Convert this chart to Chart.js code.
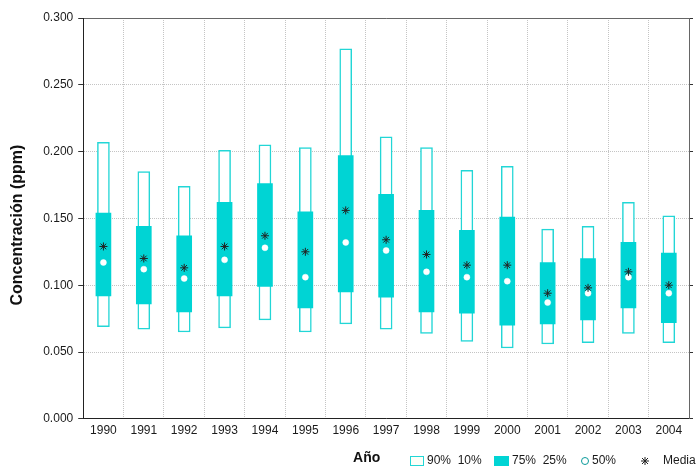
<!DOCTYPE html>
<html>
<head>
<meta charset="utf-8">
<script src="https://cdn.jsdelivr.net/npm/chart.js@4/dist/chart.umd.min.js"></script>
<style>
  html, body { margin: 0; padding: 0; background: #ffffff; }
  #wrap { width: 699px; height: 467px; position: relative; }
</style>
</head>
<body>
<div id="wrap"><canvas id="c" width="699" height="467"></canvas></div>
<script>
// ---- data ----
const years  = ['1990','1991','1992','1993','1994','1995','1996','1997','1998','1999','2000','2001','2002','2003','2004'];
const p90    = [0.207,0.185,0.174,0.201,0.205,0.203,0.277,0.211,0.203,0.186,0.189,0.142,0.144,0.162,0.152];
const p10    = [0.069,0.067,0.065,0.068,0.074,0.065,0.071,0.067,0.064,0.058,0.053,0.056,0.057,0.064,0.057];
const p75    = [0.154,0.144,0.137,0.162,0.176,0.155,0.197,0.168,0.156,0.141,0.151,0.117,0.120,0.132,0.124];
const p25    = [0.092,0.086,0.080,0.092,0.099,0.083,0.095,0.091,0.080,0.079,0.070,0.071,0.074,0.083,0.072];
const median = [0.117,0.112,0.105,0.119,0.128,0.106,0.132,0.126,0.110,0.106,0.103,0.087,0.094,0.106,0.094];
const mean   = [0.129,0.120,0.113,0.129,0.137,0.125,0.156,0.134,0.123,0.115,0.115,0.094,0.098,0.110,0.100];
const yTicks = { min: 0, max: 0.3, step: 0.05 };
const legendLabels = ['90%  10%', '75%  25%', '50%', 'Media'];

const CYAN = '#00d4d4';
const CYAN_LINE = '#22d6d6';
const FONT = '"Liberation Sans", Arial, sans-serif';

Chart.defaults.font.family = FONT;
Chart.defaults.font.size = 12;
Chart.defaults.color = '#1a1a1a';

const legendPlugin = {
  id: 'boxLegend',
  afterDraw(chart) {
    const ctx = chart.ctx;
    const r = chart.chartArea.right;
    const cy = 461;
    ctx.save();
    ctx.font = '12px ' + FONT;
    ctx.fillStyle = '#1a1a1a';
    ctx.textBaseline = 'middle';
    ctx.textAlign = 'left';
    // 90% 10% : open box
    let x = r - 279;
    ctx.fillStyle = '#fbfff8';
    ctx.fillRect(x, cy - 5, 14, 10);
    ctx.strokeStyle = CYAN_LINE; ctx.lineWidth = 1;
    ctx.strokeRect(x + 0.5, cy - 4.5, 13, 9);
    ctx.fillStyle = '#1a1a1a';
    ctx.fillText(legendLabels[0], x + 17, cy);
    // 75% 25% : filled box
    x = r - 195;
    ctx.fillStyle = CYAN;
    ctx.fillRect(x, cy - 5, 15, 10);
    ctx.fillStyle = '#1a1a1a';
    ctx.fillText(legendLabels[1], x + 18, cy);
    // 50% : circle
    x = r - 104;
    ctx.beginPath();
    ctx.arc(x, cy, 3.5, 0, Math.PI * 2);
    ctx.strokeStyle = '#0a9a9a'; ctx.lineWidth = 1;
    ctx.stroke();
    ctx.fillText(legendLabels[2], x + 7, cy);
    // Media : asterisk
    x = r - 44;
    ctx.strokeStyle = '#222'; ctx.lineWidth = 1;
    ctx.beginPath();
    ctx.moveTo(x - 4, cy); ctx.lineTo(x + 4, cy);
    ctx.moveTo(x, cy - 4); ctx.lineTo(x, cy + 4);
    ctx.moveTo(x - 3, cy - 3); ctx.lineTo(x + 3, cy + 3);
    ctx.moveTo(x - 3, cy + 3); ctx.lineTo(x + 3, cy - 3);
    ctx.stroke();
    ctx.fillText(legendLabels[3], x + 18, cy);
    ctx.restore();
  }
};

new Chart(document.getElementById('c'), {
  type: 'bar',
  data: {
    labels: years,
    datasets: [
      {
        label: 'Media', type: 'line', data: mean, showLine: false,
        pointStyle: 'star', pointRadius: 4, pointBorderColor: '#222', pointBorderWidth: 1,
        pointBackgroundColor: '#222', order: 1
      },
      {
        label: '50%', type: 'line', data: median, showLine: false,
        pointStyle: 'circle', pointRadius: 3, pointBorderColor: '#ffffff', pointBorderWidth: 0.5,
        pointBackgroundColor: '#ffffff', order: 2
      },
      {
        label: '75% 25%', data: years.map((_, i) => [p25[i], p75[i]]),
        backgroundColor: CYAN, borderColor: CYAN, borderWidth: 0,
        barThickness: 15, grouped: false, order: 3
      },
      {
        label: '90% 10%', data: years.map((_, i) => [p10[i], p90[i]]),
        backgroundColor: '#ffffff', borderColor: CYAN_LINE, borderWidth: 1.5,
        borderSkipped: false, barThickness: 12, grouped: false, order: 4
      }
    ]
  },
  options: {
    responsive: false,
    animation: false,
    devicePixelRatio: 1,
    layout: { padding: { left: 8, right: 6, top: 18, bottom: 0 } },
    plugins: { legend: { display: false }, tooltip: { enabled: false } },
    scales: {
      x: {
        type: 'category',
        offset: true,
        grid: { offset: true, color: '#c4c4c4', drawTicks: false },
        border: { color: '#222', width: 1, dash: [1, 1] },
        ticks: { padding: 5, color: '#1a1a1a', font: { size: 12 } },
        title: {
          display: true, text: 'Año          ',
          font: { size: 14, weight: 'bold' }, color: '#111',
          padding: { top: 7, bottom: 0 }
        }
      },
      x2: {
        type: 'category', position: 'top', offset: true,
        grid: { display: false, drawTicks: false },
        ticks: { display: false },
        border: { color: '#666', width: 1 }
      },
      y: {
        min: yTicks.min, max: yTicks.max,
        grid: { color: '#c4c4c4', tickColor: '#333', tickLength: 5, tickBorderDash: [] },
        border: { color: '#222', width: 1, dash: [1, 1] },
        ticks: {
          stepSize: yTicks.step, padding: 5, color: '#1a1a1a', font: { size: 12 },
          callback: v => Number(v).toFixed(3)
        },
        title: {
          display: true, text: 'Concentración (ppm)   ',
          font: { size: 16, weight: 'bold' }, color: '#111',
          padding: { top: 0, bottom: 11 }
        }
      },
      y2: {
        position: 'right', min: yTicks.min, max: yTicks.max,
        grid: { drawOnChartArea: false, tickColor: '#333', tickLength: 4, tickBorderDash: [] },
        border: { color: '#666', width: 1 },
        ticks: { display: false, stepSize: yTicks.step }
      }
    }
  },
  plugins: [legendPlugin]
});
</script>
</body>
</html>
